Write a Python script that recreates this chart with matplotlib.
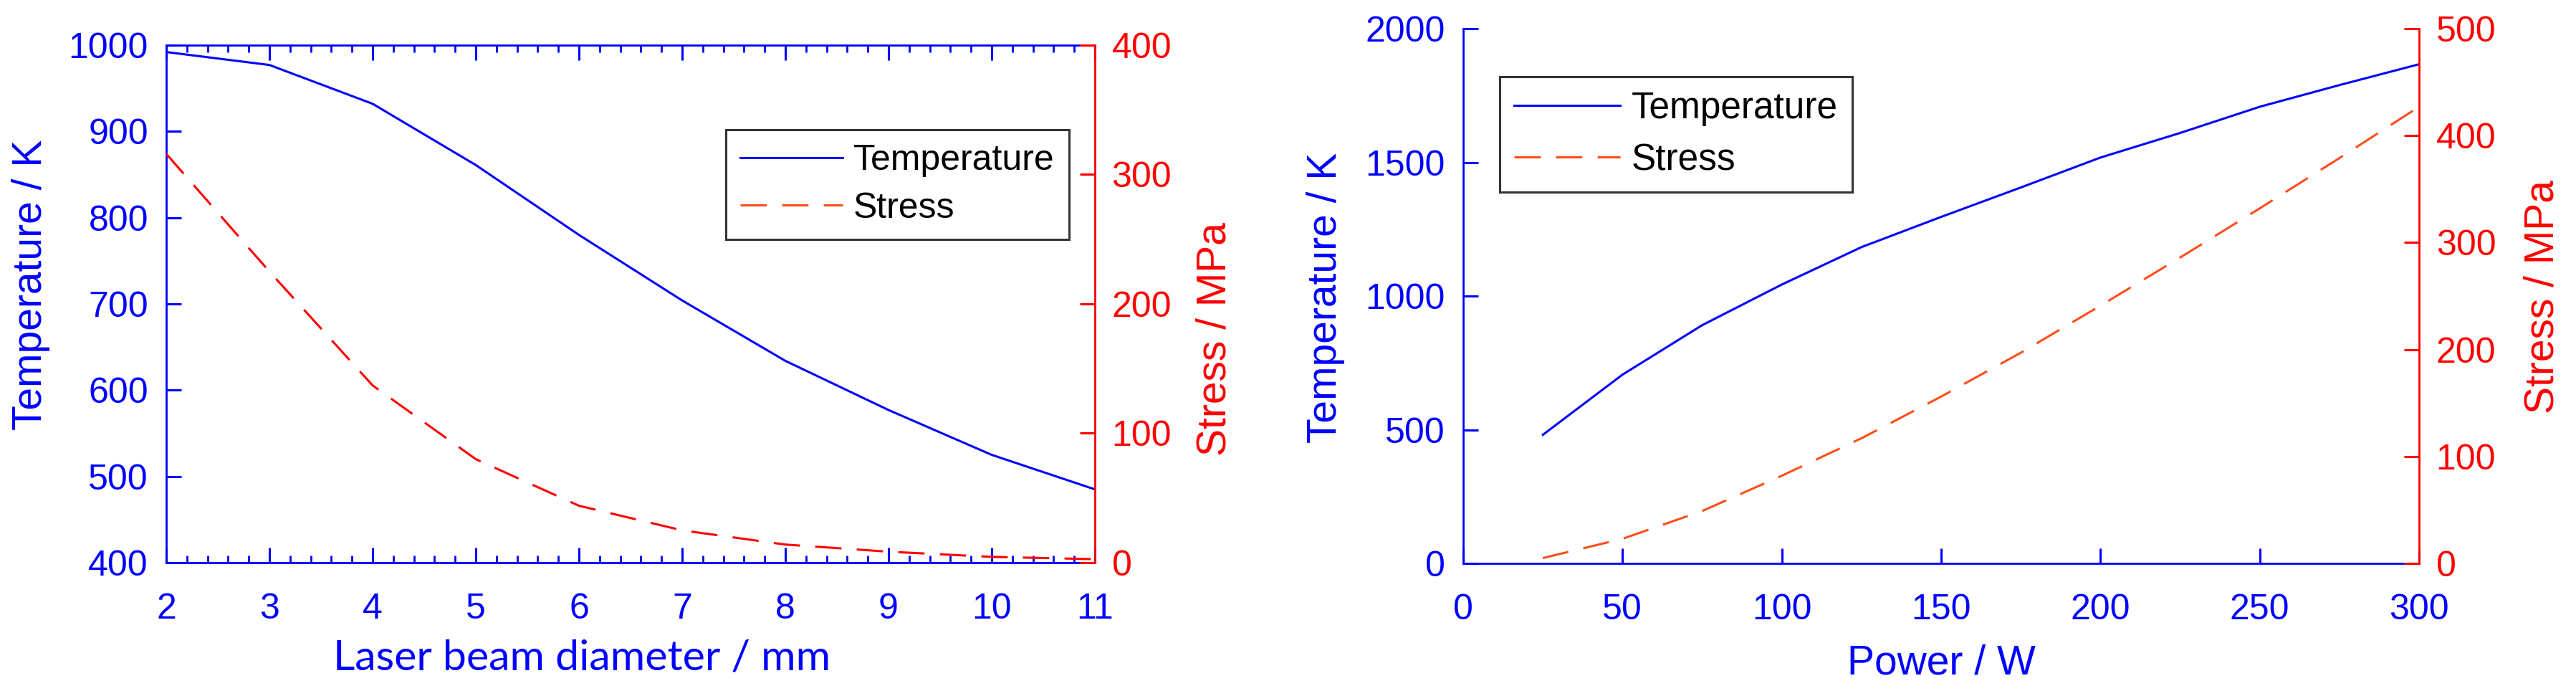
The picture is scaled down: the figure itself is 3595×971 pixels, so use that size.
import matplotlib
matplotlib.use("Agg")
import matplotlib.pyplot as plt
from matplotlib.lines import Line2D
from matplotlib.ticker import MultipleLocator

plt.rcParams['font.family'] = ['Liberation Sans', 'DejaVu Sans']

## data
diameter = [2, 3, 4, 5, 6, 7, 8, 9, 10, 11]
temp_d = [992, 977, 932, 861, 780, 704, 634, 577, 525, 485]
stress_d = [316, 225, 137, 80, 44, 25, 14, 8.5, 4.5, 2.7]

power = [25, 50, 75, 100, 125, 150, 175, 200, 225, 250, 275, 300]
temp_p = [481, 706, 891, 1043, 1183, 1296, 1406, 1518, 1610, 1708, 1789, 1867]
stress_p = [5, 23, 49, 82, 117, 156, 197, 241, 286, 332, 379, 427]

BLUE = (0, 0, 1)
RED = (1, 0, 0)
ORANGE = (1, 0.3, 0.1)
TICK_FS = 36
LABEL_FS = 41
DASH = (12, 7)

fig = plt.figure(figsize=(35.95, 9.71), dpi=100)

def style_axes(ax, ax2, box):
    for s in ['left', 'bottom', 'top']:
        ax.spines[s].set_color(BLUE)
        ax.spines[s].set_linewidth(2)
    ax.spines['right'].set_visible(False)
    ax.spines['top'].set_visible(box)
    for s in ['left', 'bottom', 'top']:
        ax2.spines[s].set_visible(False)
    ax2.spines['right'].set_color(RED)
    ax2.spines['right'].set_linewidth(2)
    ax.tick_params(axis='x', direction='in', length=15, width=2.2, colors=BLUE,
                   labelsize=TICK_FS, pad=30, top=box)
    ax.tick_params(axis='x', which='minor', direction='in', length=7, width=2,
                   colors=BLUE, top=box)
    ax.tick_params(axis='y', direction='in', length=15, width=2.2, colors=BLUE,
                   labelsize=TICK_FS, pad=18)
    ax2.tick_params(axis='y', direction='in', length=15, width=2.2, colors=RED,
                    labelsize=TICK_FS, pad=17)

def add_legend(ax, anchor, fs, hl, tp, ls, bp):
    handles = [Line2D([], [], color=BLUE, lw=2.2),
               Line2D([], [], color=ORANGE, lw=2.2, dashes=DASH)]
    leg = ax.legend(handles, ['Temperature', 'Stress'], loc='upper left',
                    bbox_to_anchor=anchor, fontsize=fs, handlelength=hl,
                    handletextpad=tp, labelspacing=ls, borderpad=bp,
                    borderaxespad=0, fancybox=False, framealpha=1,
                    edgecolor='#333333')
    leg.get_frame().set_linewidth(2.2)

# ---- left: laser beam diameter
ax1 = fig.add_axes([0.06453, 0.19156, 0.3605, 0.7436])
ax1b = ax1.twinx()
ax1.plot(diameter, temp_d, color=BLUE, lw=2.2)
ax1b.plot(diameter, stress_d, color=RED, lw=2.2, dashes=DASH)
ax1.set_xlim(2, 11)
ax1.set_ylim(400, 1000)
ax1b.set_ylim(0, 400)
ax1.xaxis.set_major_locator(MultipleLocator(1))
ax1.xaxis.set_minor_locator(MultipleLocator(0.2))
ax1b.set_yticks([0, 100, 200, 300, 400])
style_axes(ax1, ax1b, True)

ax1.set_xlabel('Laser beam diameter / mm', color=BLUE, fontsize=42.5,
               family=['Lato', 'DejaVu Sans'])
ax1.xaxis.set_label_coords(0.4475, -0.184)
ax1.xaxis.label.set_va('center')
ax1.set_ylabel('Temperature / K', color=BLUE, fontsize=LABEL_FS)
ax1.yaxis.set_label_coords(-0.1458, 0.537)
ax1.yaxis.label.set_va('center')
ax1b.set_ylabel('Stress / MPa', color=RED, fontsize=LABEL_FS)
ax1b.yaxis.set_label_coords(1.1289, 0.432)
ax1b.yaxis.label.set_va('center')

add_legend(ax1b, (0.6026, 0.836), 36, 2.86, 0.3, 0.41, 0.4)

# ---- right: power
ax2 = fig.add_axes([0.5680, 0.1905, 0.3711, 0.7683])
ax2b = ax2.twinx()
ax2.plot(power, temp_p, color=BLUE, lw=2.2)
ax2b.plot(power, stress_p, color=ORANGE, lw=2.2, dashes=DASH)
ax2.set_xlim(0, 300)
ax2.set_ylim(0, 2000)
ax2b.set_ylim(0, 500)
ax2.set_xticks([0, 50, 100, 150, 200, 250, 300])
ax2.set_yticks([0, 500, 1000, 1500, 2000])
ax2b.set_yticks([0, 100, 200, 300, 400, 500])
style_axes(ax2, ax2b, False)

ax2.set_xlabel('Power / W', color=BLUE, fontsize=LABEL_FS)
ax2.xaxis.set_label_coords(0.5, -0.1863)
ax2.xaxis.label.set_va('center')
ax2.set_ylabel('Temperature / K', color=BLUE, fontsize=LABEL_FS)
ax2.yaxis.set_label_coords(-0.1439, 0.497)
ax2.yaxis.label.set_va('center')
ax2b.set_ylabel('Stress / MPa', color=RED, fontsize=LABEL_FS)
ax2b.yaxis.set_label_coords(1.129, 0.499)
ax2b.yaxis.label.set_va('center')

add_legend(ax2b, (0.0382, 0.910), 37, 2.88, 0.31, 0.45, 0.39)

fig.savefig('out.png', dpi=100)
